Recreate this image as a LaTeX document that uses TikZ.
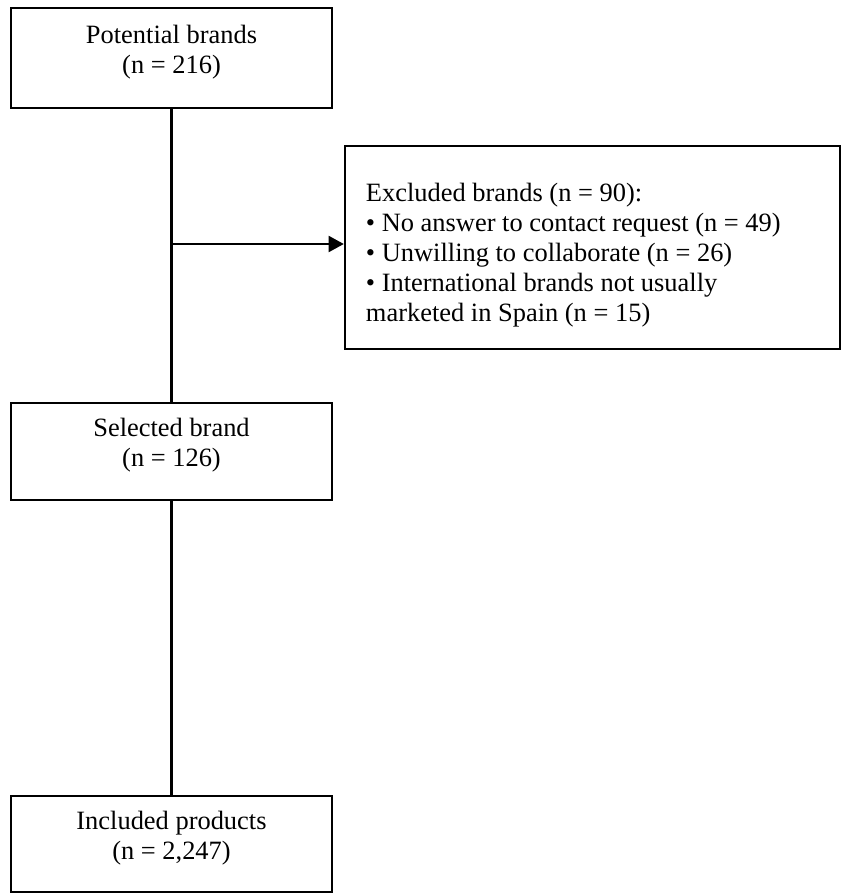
\documentclass[tikz,border=0pt]{standalone}
\usepackage{fontspec}
\setmainfont{Liberation Serif}
\usetikzlibrary{arrows.meta,positioning}
\newcommand{\lowstrut}{\rule[-0.45cm]{0pt}{0.45cm}}
\newcommand{\highstrut}{\spaceskip=0.25em\relax\rule{0pt}{0.85cm}}

\begin{document}
\begin{tikzpicture}[x=0.025cm, y=-0.025cm,
 every node/.style={font=\fontsize{18.8}{21.34}\selectfont},
 stagebox/.style={draw, line width=1.6pt, align=center, minimum width=8.025cm, inner sep=0pt},
 exclbox/.style={draw, line width=1.6pt, align=left, text width=11.325cm, inner xsep=0.525cm, inner ysep=0pt, minimum height=5.075cm},
 flowline/.style={line width=1.6pt}]

 \clip (0,0) rectangle (841,893);

 \node[stagebox, minimum height=2.5cm] (potential) at (171.5,58) {Potential brands\\(n = 216)\lowstrut};
 \node[stagebox, minimum height=2.425cm] (selected) at (171.5,451.5) {Selected brand\\(n = 126)\lowstrut};
 \node[stagebox, minimum height=2.4cm, anchor=north] (included) at (171.5,795) {Included products\\(n = 2,247)\lowstrut};
 \node[exclbox] (excluded) at (592.5,247.5) {\highstrut Excluded brands (n = 90):\\
 • No answer to contact request (n = 49)\\
 • Unwilling to collaborate (n = 26)\\
 • International brands not usually\\
 marketed in Spain (n = 15)};

 \draw[flowline] (potential) -- (selected);
 \draw[flowline] (selected) -- (included);
 \coordinate (branch) at (171.5,244);
 \draw[flowline, -{Triangle[length=0.38cm, width=0.4cm]}] (branch) -- (branch -| excluded.west);
\end{tikzpicture}
\end{document}
